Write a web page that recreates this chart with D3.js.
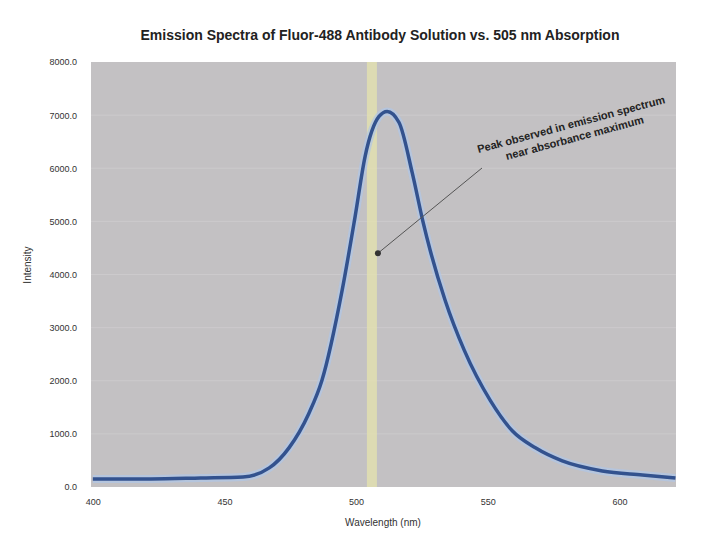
<!DOCTYPE html>
<html><head><meta charset="utf-8">
<script src="https://cdn.jsdelivr.net/npm/d3@7"></script>
<style>body{margin:0;background:#fff;}svg{display:block;font-family:"Liberation Sans",Arial,sans-serif;}</style>
</head><body>
<svg id="c" width="720" height="554"></svg>
<script>
const title = "Emission Spectra of Fluor-488 Antibody Solution vs. 505 nm Absorption";
const xLabel = "Wavelength (nm)";
const yLabel = "Intensity";
const xTicks = [400, 450, 500, 550, 600];
const yTicks = [0, 1000, 2000, 3000, 4000, 5000, 6000, 7000, 8000];
const wavelength = [400, 422, 441, 457, 467, 474.5, 482, 487, 494.7, 499.6, 503.4, 508.7, 511.8, 516.3, 521.3, 525.5, 528.1, 533.8, 541.1, 551, 559.3, 568.1, 578.3, 593.5, 608.7, 621.3];
const intensity  = [151, 151, 170, 189, 359, 737, 1380, 2004, 3705, 5085, 6219, 6975, 7070, 6862, 5917, 4972, 4461, 3516, 2571, 1626, 1059, 737, 491, 302, 227, 170];
const markerWavelength = [506];
const annotation = ["Peak observed in emission spectrum", "near absorbance maximum"];
const arrowTarget = [506, 4400];

const svg = d3.select("#c");
const m = {l:91, t:62, r:676, b:487};
const x = d3.scaleLinear().domain([399.3, 621.5]).range([m.l, m.r]);
const y = d3.scaleLinear().domain([0, 8000]).range([m.b, m.t]);

svg.append("rect").attr("x", m.l).attr("y", m.t).attr("width", m.r-m.l).attr("height", m.b-m.t).attr("fill", "#c3c1c3");
svg.append("g").selectAll("line").data(yTicks.slice(1,-1)).join("line")
  .attr("x1", m.l).attr("x2", m.r).attr("y1", d=>y(d)).attr("y2", d=>y(d))
  .attr("stroke", "#cccacc").attr("stroke-width", 1);

svg.append("g").selectAll("rect").data(markerWavelength).join("rect")
  .attr("x", d=>x(d)-5).attr("y", m.t).attr("width", 10).attr("height", m.b-m.t)
  .attr("fill", "#e6e3ae").attr("opacity", 0.75);

const line = d3.line().x((d,i)=>x(wavelength[i])).y(d=>y(d)).curve(d3.curveMonotoneX);
svg.append("path").datum(intensity).attr("d", line).attr("fill","none").attr("stroke","#afc6e8").attr("stroke-width",8).attr("opacity",0.7);
svg.append("path").datum(intensity).attr("d", line).attr("fill","none").attr("stroke","#33528e").attr("stroke-width",3.5);

const yAxis = d3.axisLeft(y).tickValues(yTicks).tickSize(0).tickPadding(14).tickFormat(d=> d===0 ? "0.0" : d3.format(".1f")(d));
const gy = svg.append("g").attr("transform", `translate(${m.l},0)`).call(yAxis);
gy.select(".domain").remove();
gy.selectAll("text").attr("font-size", 9).attr("fill", "#333");
const xAxis = d3.axisBottom(x).tickValues(xTicks).tickSize(0).tickPadding(12).tickFormat(d3.format("d"));
const gx = svg.append("g").attr("transform", `translate(0,${m.b})`).call(xAxis);
gx.select(".domain").remove();
gx.selectAll("text").attr("font-size", 9).attr("fill", "#333");

svg.append("text").attr("x", 380).attr("y", 40).attr("text-anchor","middle").attr("font-size", 14).attr("font-weight","bold").attr("fill","#222").text(title);
svg.append("text").attr("x", 383).attr("y", 526).attr("text-anchor","middle").attr("font-size", 10).attr("fill","#333").text(xLabel);
svg.append("text").attr("transform","translate(31,265) rotate(-90)").attr("text-anchor","middle").attr("font-size", 10).attr("fill","#333").text(yLabel);

const ax = x(arrowTarget[0]) + 6, ay = y(arrowTarget[1]);
svg.append("line").attr("x1", 482).attr("y1", 168).attr("x2", ax).attr("y2", ay).attr("stroke","#555").attr("stroke-width",1);
svg.append("circle").attr("cx", ax).attr("cy", ay).attr("r", 3).attr("fill","#333");
const ann = svg.append("text").attr("transform","translate(572,128) rotate(-15)").attr("text-anchor","middle").attr("font-size", 11).attr("font-weight","bold").attr("fill","#222");
ann.selectAll("tspan").data(annotation).join("tspan").attr("x",0).attr("dy",(d,i)=> i===0 ? 0 : 14).text(d=>d);
</script>
</body></html>
